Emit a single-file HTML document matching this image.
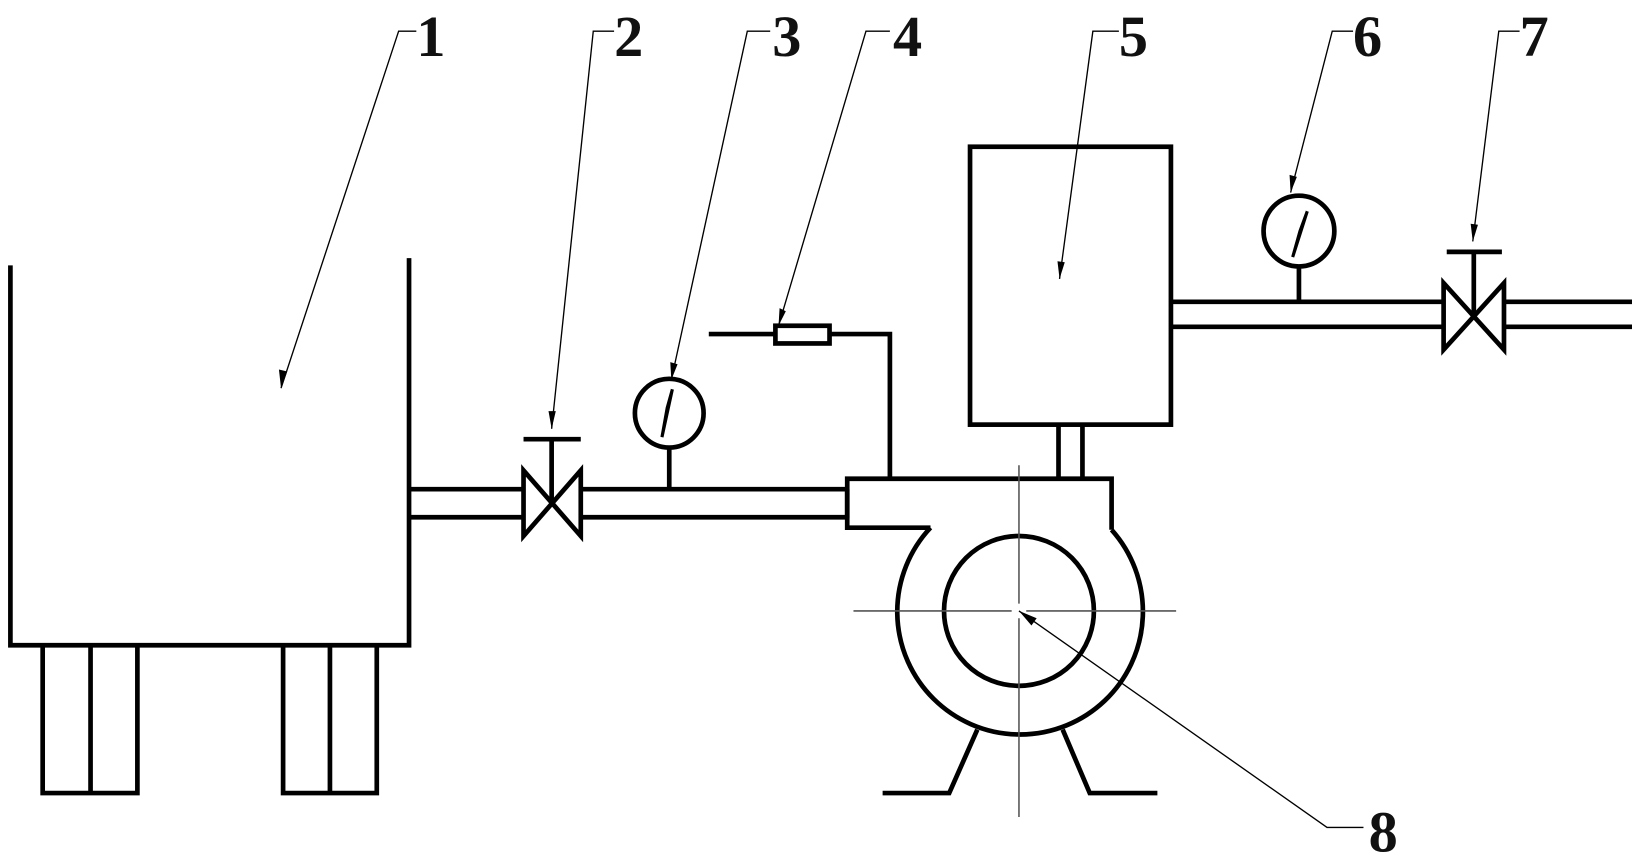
<!DOCTYPE html>
<html><head><meta charset="utf-8"><style>
html,body{margin:0;padding:0;background:#fff;width:1632px;height:868px;overflow:hidden}
svg{display:block}
text{font-family:"Liberation Serif",serif;font-size:56px;font-weight:bold;fill:#111}
</style></head><body>
<svg width="1632" height="868" viewBox="0 0 1568 834" preserveAspectRatio="none" xmlns="http://www.w3.org/2000/svg">
<g stroke="#000" stroke-width="4.5" fill="none" stroke-linecap="butt">
<path d="M10 255 V620 H393 V248"/>
<path d="M41 620 V762 H132 V620 M87 620 V762"/>
<path d="M272 620 V762 H362 V620 M317 620 V762"/>
<path d="M393 470 H503 M393 497 H503"/>
<path d="M503 452 L558 515 V452 L503 515 Z"/>
<path d="M530 484 V422 M503 422 H558"/>
<path d="M558 470 H815 M558 497 H815"/>
<circle cx="643" cy="397" r="33"/>
<path d="M643 430 V470"/>
<path d="M814 498 V460 H1068 V509"/>
<path d="M814 470 V507 H894"/>
<path d="M894 507 A118 118 0 1 0 1068 509"/>
<circle cx="979" cy="587" r="72"/>
<path d="M939 701 L912 762 H848 M1021 701 L1047 762 H1112"/>
<path d="M1017 408 V460 M1040 408 V460"/>
<path d="M855 460 V321 H797 M745 321 H681"/>
<rect x="745" y="313" width="52" height="17"/>
<rect x="932" y="141" width="193" height="267"/>
<path d="M1125 290 H1387 M1125 314 H1387"/>
<path d="M1387 272 L1445 336 V272 L1387 336 Z"/>
<path d="M1416 304 V242 M1390 242 H1443"/>
<path d="M1445 290 H1568 M1445 314 H1568"/>
<circle cx="1248" cy="222" r="34"/>
<path d="M1248 256 V290"/>
</g>
<path d="M646 374 L636 420 L641 392 Z" fill="#000" stroke="#000" stroke-width="3"/>
<path d="M1256 203 L1242 247 L1249 222 Z" fill="#000" stroke="#000" stroke-width="3"/>
<g stroke="#555" stroke-width="1.5">
<path d="M979 447 V580 M979 594 V785"/>
<path d="M820 587 H972 M986 587 H1130"/>
</g>
<g stroke="#000" stroke-width="1.3" fill="none">
<path d="M270 373 L383 30 H400"/>
<path d="M530 412 L570 30 H590"/>
<path d="M645 365 L718 30 H740"/>
<path d="M748 313 L832 30 H855"/>
<path d="M1018 268 L1050 30 H1075"/>
<path d="M1240 185 L1280 30 H1300"/>
<path d="M1415 232 L1440 30 H1460"/>
<path d="M979 587 L1275 795 H1310"/>
</g>
<g fill="#000">
<path d="M270 373 L268 355 L276 357 Z"/>
<path d="M530 412 L527 395 L534 395 Z"/>
<path d="M645 365 L644 348 L651 350 Z"/>
<path d="M748 313 L749 296 L755 299 Z"/>
<path d="M1018 268 L1016 251 L1023 252 Z"/>
<path d="M1240 185 L1239 168 L1246 170 Z"/>
<path d="M1415 232 L1413 215 L1420 216 Z"/>
<path d="M979 587 L996 594 L991 601 Z"/>
</g>
<text x="400" y="54">1</text>
<text x="590" y="54">2</text>
<text x="742" y="54">3</text>
<text x="858" y="54">4</text>
<text x="1075" y="54">5</text>
<text x="1300" y="54">6</text>
<text x="1460" y="54">7</text>
<text x="1315" y="818">8</text>
</svg>
</body></html>
